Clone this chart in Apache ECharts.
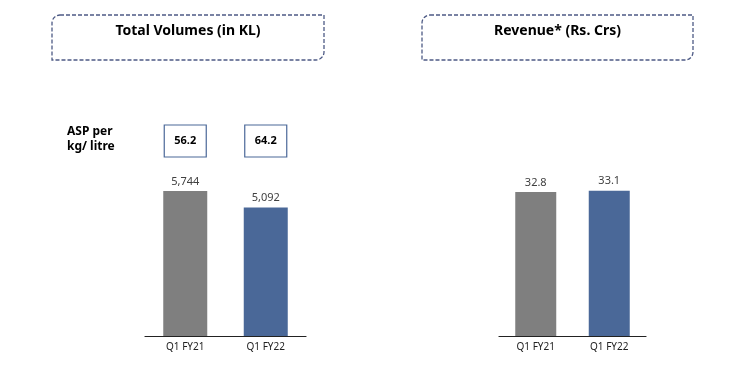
<!DOCTYPE html>
<html lang="en">
<head>
    <meta charset="UTF-8">
    <title>Volumes and Revenue</title>
    <script src="https://cdn.jsdelivr.net/npm/echarts@6/dist/echarts.min.js"></script>
</head>
<body style="margin:0;background:#fff;">
<div id="main" style="width:751px;height:371px;"></div>
<script>
    // data
    var categories = ['Q1 FY21', 'Q1 FY22'];
    var volumes = [5744, 5092];      // KL
    var revenue = [32.8, 33.1];      // Rs. Crs
    var aspValues = ['56.2', '64.2']; // ASP per kg/ litre
    var barColors = ['#7f7f7f', '#4a6898'];

    var myChart = echarts.init(document.getElementById('main'));
    var font = '"Noto Sans", "Open Sans", sans-serif';

    function barData(vals) {
        return vals.map(function (v, i) {
            return { value: v, itemStyle: { color: barColors[i] } };
        });
    }

    function titleBox(x, w, text) {
        return [{
            type: 'rect',
            shape: { x: x, y: 15, width: w, height: 45, r: [8, 0, 8, 0] },
            style: { fill: 'none', stroke: '#4d5a85', lineWidth: 1.3, lineDash: [4, 2] }
        }, {
            type: 'text',
            x: x + w / 2, y: 31,
            style: { text: text, fill: '#000', font: 'bold 14px ' + font, align: 'center', verticalAlign: 'middle' }
        }];
    }

    var option = {
        backgroundColor: '#fff',
        animation: false,
        textStyle: { fontFamily: font },
        grid: [
            { left: 145, width: 161, top: 100, bottom: 35 },
            { left: 499, width: 147, top: 100, bottom: 35 }
        ],
        xAxis: [0, 1].map(function (i) {
            return {
                type: 'category', gridIndex: i, data: categories,
                axisLine: { lineStyle: { color: '#222', width: 1.2 } },
                axisTick: { show: false },
                axisLabel: { color: '#222', fontSize: 10, margin: 6 }
            };
        }),
        yAxis: [
            { type: 'value', gridIndex: 0, min: 0, max: 9350, show: false },
            { type: 'value', gridIndex: 1, min: 0, max: 53.8, show: false }
        ],
        series: [{
            type: 'bar', xAxisIndex: 0, yAxisIndex: 0, barWidth: 44,
            data: barData(volumes),
            label: {
                show: true, position: 'top', distance: 4, color: '#404040', fontSize: 11,
                formatter: function (p) { return p.value.toLocaleString('en-US'); }
            }
        }, {
            type: 'bar', xAxisIndex: 1, yAxisIndex: 1, barWidth: 41,
            data: barData(revenue),
            label: { show: true, position: 'top', distance: 4, color: '#404040', fontSize: 11 }
        }],
        graphic: titleBox(52, 272, 'Total Volumes (in KL)').concat(titleBox(422, 271, 'Revenue* (Rs. Crs)'))
    };
    myChart.setOption(option);

    // ASP boxes above the volume bars
    var extra = [{
        type: 'text', x: 67, y: 124,
        style: { text: 'ASP per\nkg/ litre', fill: '#000', font: 'bold 12px ' + font, lineHeight: 15 }
    }];
    categories.forEach(function (c, i) {
        var cx = myChart.convertToPixel({ xAxisIndex: 0 }, c);
        extra.push({
            type: 'rect',
            shape: { x: cx - 21, y: 125, width: 42, height: 32 },
            style: { fill: '#fff', stroke: '#4a6898', lineWidth: 1.2 }
        });
        extra.push({
            type: 'text', x: cx, y: 141,
            style: { text: aspValues[i], fill: '#000', font: 'bold 11px ' + font, align: 'center', verticalAlign: 'middle' }
        });
    });
    myChart.setOption({ graphic: option.graphic.concat(extra) });
</script>
</body>
</html>
